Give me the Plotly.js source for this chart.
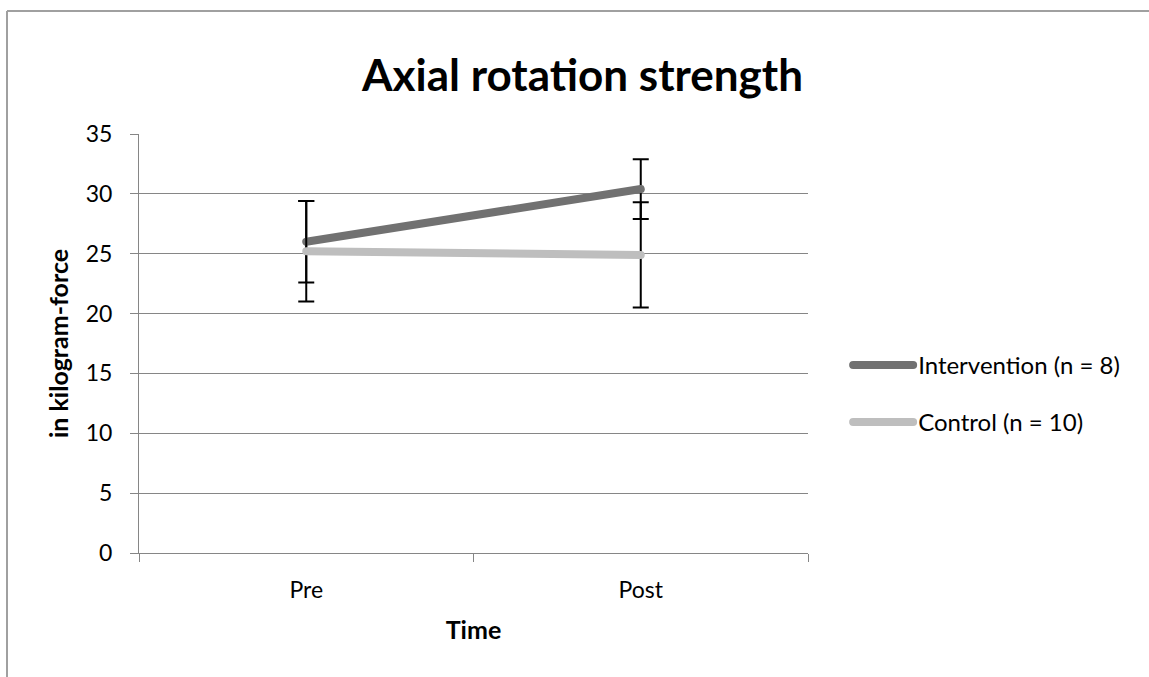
<!DOCTYPE html>
<html>
<head>
<meta charset="utf-8">
<script src="https://cdn.plot.ly/plotly-3.0.1.min.js"></script>
<style>html,body{margin:0;padding:0;background:#fff;}#chart{width:1149px;height:677px;}</style>
</head>
<body>
<div id="chart"></div>
<script>
const categories = ["Pre", "Post"];
const interventionMean = [26.0, 30.4];
const interventionErr = [3.4, 2.5];
const controlMean = [25.2, 24.9];
const controlErr = [4.2, 4.4];
const yTicks = [0, 5, 10, 15, 20, 25, 30, 35];

const FONT = "Lato, 'Open Sans', sans-serif";

const traces = [
  {
    x: categories, y: interventionMean, type: "scatter", mode: "lines",
    name: "Intervention (n = 8)", legendgroup: "a",
    line: {color: "#717171", width: 8},
    error_y: {type: "data", array: interventionErr, visible: true, color: "#000", thickness: 2, width: 8}
  },
  {
    x: categories, y: controlMean, type: "scatter", mode: "lines",
    name: "Control (n = 10)", legendgroup: "b",
    line: {color: "#bebebe", width: 8},
    error_y: {type: "data", array: controlErr, visible: true, color: "#000", thickness: 2, width: 8}
  }
];

const layout = {
  width: 1149, height: 677,
  margin: {l: 139, r: 341, t: 134, b: 124},
  paper_bgcolor: "#fff", plot_bgcolor: "#fff",
  font: {family: FONT, size: 23, color: "#000"},
  title: {text: "<b>Axial rotation strength</b>", font: {family: FONT, size: 44, color: "#000"},
          x: 0.507, xanchor: "center", y: 0.889, yanchor: "middle"},
  xaxis: {
    type: "category", range: [-0.5, 1.5], tickson: "boundaries",
    ticks: "outside", ticklen: 8, tickcolor: "#868686",
    showline: true, linecolor: "#868686", linewidth: 1,
    showgrid: false, zeroline: false,
    tickfont: {family: FONT, size: 23}, ticklabelstandoff: 16,
    title: {text: "<b>Time</b>", font: {family: FONT, size: 25}, standoff: 19}
  },
  yaxis: {
    range: [0, 35], tickvals: yTicks,
    ticks: "outside", ticklen: 8, tickcolor: "#868686",
    showline: true, linecolor: "#868686", linewidth: 1,
    showgrid: true, gridcolor: "#868686", gridwidth: 1, zeroline: false,
    tickfont: {family: FONT, size: 23}, ticklabelstandoff: 13,
    title: {text: "<b>in kilogram-force</b>", font: {family: FONT, size: 25}, standoff: 9}
  },
  showlegend: true,
  legend: {x: 1.06, xanchor: "left", y: 0.38, yanchor: "middle",
           font: {family: FONT, size: 24}, traceorder: "grouped", tracegroupgap: 23,
           bgcolor: "rgba(0,0,0,0)", itemwidth: 60},
  shapes: [
    {type: "line", xref: "paper", yref: "paper", x0: -0.1973, x1: 1.8, y0: 1.2936, y1: 1.2936,
     line: {color: "#a0a0a0", width: 2}},
    {type: "line", xref: "paper", yref: "paper", x0: -0.1973, x1: -0.1973, y0: 1.2936, y1: -0.5,
     line: {color: "#a0a0a0", width: 2}}
  ]
};

Plotly.newPlot("chart", traces, layout, {displayModeBar: false}).then(function (gd) {
  gd.querySelectorAll(".scatterlayer .js-line, .legend .js-line").forEach(function (p) {
    p.style.strokeLinecap = "round";
  });
});
</script>
</body>
</html>
